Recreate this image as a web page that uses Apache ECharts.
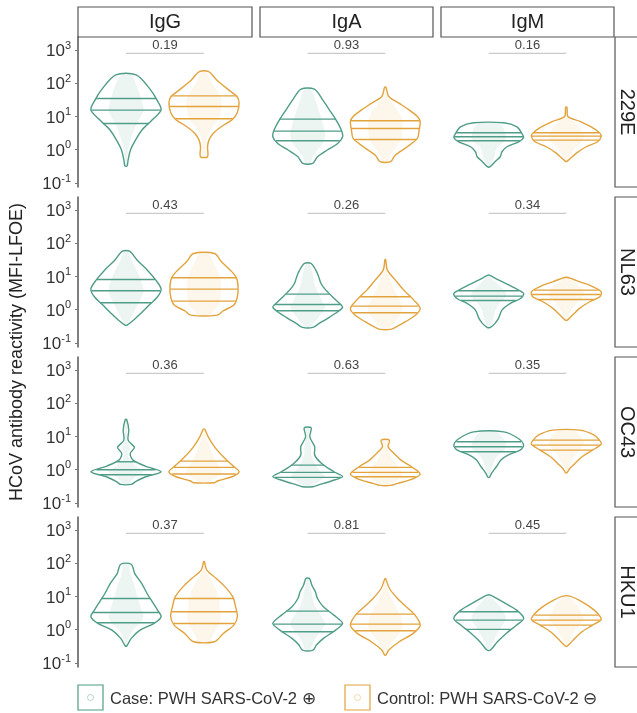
<!DOCTYPE html>
<html>
<head>
<meta charset="utf-8">
<script src="https://cdn.jsdelivr.net/npm/echarts@6/dist/echarts.min.js"></script>
<style>
html, body { margin: 0; padding: 0; background: #fff; }
#chartDom { width: 637px; height: 713px; }
</style>
</head>
<body>
<div id="chartDom"></div>
<script>
// facets
var antigens = ['229E', 'NL63', 'OC43', 'HKU1'];
var isotypes = ['IgG', 'IgA', 'IgM'];
var groupNames = ['Case: PWH SARS-CoV-2', 'Control: PWH SARS-CoV-2'];
var groupSigns = ['\u2295', '\u2296'];

// p values per antigen (row) and isotype (column)
var pValues = [
    [0.19, 0.93, 0.16],
    [0.43, 0.26, 0.34],
    [0.36, 0.63, 0.35],
    [0.37, 0.81, 0.45]
];

// y ticks, log10(MFI-LFOE)
var yTicks = [-1, 0, 1, 2, 3];

// violin outlines: [log10 MFI-LFOE, relative density], top to bottom
var caseProfiles = [
    [
        [[2.25, 0.29], [1.8, 0.7], [1.5, 0.88], [1.2, 1], [0.9, 0.75], [0.6, 0.46], [0.29, 0.27], [0, 0.13], [-0.31, 0.06], [-0.49, 0.03]],
        [[1.82, 0.19], [1.5, 0.43], [1.2, 0.62], [0.9, 0.81], [0.6, 0.96], [0.39, 1], [0.19, 0.86], [0, 0.57], [-0.21, 0.28], [-0.41, 0.14]],
        [[0.81, 0.43], [0.69, 0.81], [0.49, 0.95], [0.37, 1], [0.24, 0.86], [0.09, 0.52], [-0.06, 0.38], [-0.21, 0.33], [-0.36, 0.18], [-0.51, 0.04]]
    ],
    [
        [[1.76, 0.1], [1.49, 0.32], [1.19, 0.61], [0.89, 0.85], [0.62, 1], [0.39, 0.9], [0.14, 0.66], [-0.11, 0.42], [-0.31, 0.22], [-0.46, 0.03]],
        [[1.39, 0.1], [1.09, 0.28], [0.79, 0.38], [0.59, 0.52], [0.34, 0.76], [0.14, 0.96], [0.07, 1], [-0.06, 0.86], [-0.26, 0.57], [-0.41, 0.33], [-0.53, 0.15]],
        [[1.04, 0.02], [0.89, 0.29], [0.69, 0.68], [0.49, 1], [0.34, 0.91], [0.19, 0.62], [-0.01, 0.38], [-0.26, 0.28], [-0.41, 0.18], [-0.53, 0.05]]
    ],
    [
        [[1.51, 0.02], [1.19, 0.08], [0.89, 0.06], [0.67, 0.24], [0.49, 0.12], [0.29, 0.2], [0.11, 0.55], [-0.06, 1], [-0.21, 0.56], [-0.36, 0.27], [-0.44, 0.15]],
        [[1.26, 0.1], [0.99, 0.06], [0.69, 0.2], [0.44, 0.2], [0.19, 0.4], [-0.06, 0.75], [-0.21, 1], [-0.33, 0.7], [-0.46, 0.3], [-0.51, 0.15]],
        [[1.14, 0.43], [0.94, 0.85], [0.74, 1], [0.59, 0.9], [0.44, 0.55], [0.29, 0.35], [0.09, 0.22], [-0.11, 0.08], [-0.23, 0.02]]
    ],
    [
        [[1.97, 0.15], [1.69, 0.25], [1.39, 0.45], [1.09, 0.6], [0.84, 0.75], [0.59, 0.9], [0.39, 1], [0.19, 0.8], [-0.01, 0.4], [-0.26, 0.15], [-0.49, 0.02]],
        [[1.54, 0.05], [1.34, 0.12], [1.14, 0.22], [0.94, 0.28], [0.69, 0.45], [0.44, 0.75], [0.19, 1], [-0.01, 0.8], [-0.26, 0.45], [-0.46, 0.25], [-0.61, 0.15]],
        [[1.04, 0.05], [0.84, 0.4], [0.59, 0.8], [0.34, 1], [0.14, 0.8], [-0.11, 0.5], [-0.36, 0.25], [-0.61, 0.05]]
    ]
];
var controlProfiles = [
    [
        [[2.35, 0.13], [2.1, 0.36], [1.8, 0.7], [1.6, 0.94], [1.4, 1], [1.1, 0.94], [0.9, 0.8], [0.7, 0.5], [0.49, 0.26], [0.29, 0.14], [0.09, 0.1], [-0.21, 0.1]],
        [[1.88, 0.02], [1.6, 0.1], [1.4, 0.39], [1.2, 0.68], [1, 0.92], [0.85, 1], [0.6, 0.97], [0.34, 0.92], [0.09, 0.63], [-0.16, 0.29], [-0.36, 0.15]],
        [[1.28, 0.02], [1, 0.05], [0.85, 0.39], [0.65, 0.77], [0.5, 0.96], [0.4, 1], [0.24, 0.9], [0.09, 0.57], [-0.11, 0.28], [-0.34, 0.03]]
    ],
    [
        [[1.69, 0.3], [1.44, 0.5], [1.19, 0.75], [0.97, 0.92], [0.69, 0.97], [0.39, 0.95], [0.14, 0.85], [-0.03, 0.55], [-0.16, 0.38]],
        [[1.51, 0.01], [1.19, 0.06], [0.89, 0.29], [0.59, 0.53], [0.29, 0.82], [0.04, 1], [-0.16, 0.87], [-0.36, 0.58], [-0.53, 0.29], [-0.59, 0.15]],
        [[0.97, 0.05], [0.84, 0.39], [0.69, 0.77], [0.54, 1], [0.39, 0.96], [0.24, 0.67], [0.04, 0.38], [-0.16, 0.18], [-0.31, 0.03]]
    ],
    [
        [[1.22, 0.02], [0.99, 0.12], [0.69, 0.3], [0.39, 0.55], [0.14, 0.8], [-0.06, 1], [-0.21, 0.8], [-0.33, 0.4], [-0.39, 0.3]],
        [[0.89, 0.12], [0.69, 0.08], [0.49, 0.25], [0.29, 0.45], [0.09, 0.75], [-0.13, 1], [-0.29, 0.75], [-0.41, 0.35], [-0.47, 0.15]],
        [[1.19, 0.39], [1.04, 0.8], [0.89, 0.95], [0.77, 1], [0.59, 0.75], [0.39, 0.45], [0.19, 0.25], [0.04, 0.1], [-0.09, 0.02]]
    ],
    [
        [[2.05, 0.01], [1.79, 0.08], [1.54, 0.35], [1.29, 0.6], [0.99, 0.82], [0.69, 0.9], [0.39, 0.95], [0.14, 0.85], [-0.11, 0.55], [-0.36, 0.3]],
        [[1.54, 0.01], [1.24, 0.12], [0.94, 0.35], [0.69, 0.6], [0.44, 0.85], [0.14, 1], [-0.11, 0.8], [-0.36, 0.4], [-0.61, 0.1], [-0.76, 0.02]],
        [[1.01, 0.1], [0.84, 0.45], [0.59, 0.8], [0.31, 1], [0.14, 0.75], [-0.06, 0.45], [-0.31, 0.2], [-0.49, 0.03]]
    ]
];

// quartiles [q1, median, q3], log10 MFI-LFOE
var caseQuartiles = [
    [[0.79, 1.19, 1.54], [0.27, 0.56, 0.92], [0.27, 0.39, 0.51]],
    [[0.21, 0.57, 0.91], [-0.03, 0.16, 0.47], [0.28, 0.41, 0.57]],
    [[-0.15, 0.0, 0.24], [-0.23, -0.08, 0.14], [0.54, 0.69, 0.84]],
    [[0.21, 0.52, 0.94], [-0.06, 0.17, 0.56], [0.01, 0.29, 0.54]]
];
var controlQuartiles = [
    [[0.93, 1.30, 1.62], [0.31, 0.64, 0.87], [0.29, 0.41, 0.51]],
    [[0.26, 0.62, 0.96], [-0.09, 0.11, 0.39], [0.31, 0.46, 0.59]],
    [[-0.13, 0.07, 0.26], [-0.21, -0.08, 0.07], [0.59, 0.74, 0.89]],
    [[0.19, 0.54, 0.94], [-0.03, 0.17, 0.47], [0.14, 0.29, 0.44]]
];

var groupColors = ['#4f9c87', '#e2a33d'];
var fontFamily = '"Liberation Sans", Arial, sans-serif';

// layout
var colLeft = [78, 260, 441];
var colWidth = [174, 173, 173];
var rowTop = 37, rowHeight = 150, rowStep = 160;
var violinHalf = 0.45;

var chartDom = echarts.init(document.getElementById('chartDom'));

function widthAt(profile, v) {
    for (var i = 0; i < profile.length - 1; i++) {
        var a = profile[i], b = profile[i + 1];
        if (v <= a[0] && v >= b[0]) {
            var t = (a[0] - v) / (a[0] - b[0]);
            return a[1] + (b[1] - a[1]) * t;
        }
    }
    return 0;
}

function violinRenderer(r, c) {
    return function (params, api) {
        var g = api.value(1);
        var profile = (g === 0 ? caseProfiles : controlProfiles)[r][c];
        var quart = (g === 0 ? caseQuartiles : controlQuartiles)[r][c];
        var color = groupColors[g];
        var cx = api.value(0);
        var mid = api.coord([cx, 0])[0];
        var halfW = api.size([violinHalf, 0])[0];
        var right = [], left = [], cRight = [], cLeft = [];
        profile.forEach(function (p) {
            var y = api.coord([cx, p[0]])[1];
            right.push([mid + p[1] * halfW, y]);
            left.unshift([mid - p[1] * halfW, y]);
            // faint band standing in for the jittered points
            cRight.push([mid + p[1] * halfW * 0.5, y]);
            cLeft.unshift([mid - p[1] * halfW * 0.5, y]);
        });
        var children = [{
            type: 'polygon',
            shape: { points: cRight.concat(cLeft), smooth: 0.3 },
            style: { fill: color, opacity: 0.1 }
        }, {
            type: 'polygon',
            shape: { points: right.concat(left), smooth: 0.3 },
            style: { fill: 'none', stroke: color, lineWidth: 1.4 }
        }];
        quart.forEach(function (q) {
            var w = widthAt(profile, q) * halfW;
            var y = api.coord([cx, q])[1];
            children.push({
                type: 'line',
                shape: { x1: mid - w, y1: y, x2: mid + w, y2: y },
                style: { stroke: color, lineWidth: 1.4 }
            });
        });
        return { type: 'group', children: children };
    };
}

function pValueRenderer(params, api) {
    var p1 = api.coord([1, 2.9]);
    var p2 = api.coord([2, 2.9]);
    return {
        type: 'group',
        children: [{
            type: 'line',
            shape: { x1: p1[0], y1: p1[1], x2: p2[0], y2: p2[1] },
            style: { stroke: '#bdbdbd', lineWidth: 1 }
        }, {
            type: 'text',
            x: (p1[0] + p2[0]) / 2,
            y: p1[1] - 1,
            style: {
                text: api.value(0).toFixed(2),
                fill: '#444',
                font: '13px ' + fontFamily,
                align: 'center',
                verticalAlign: 'bottom'
            }
        }]
    };
}

var grids = [], xAxes = [], yAxes = [], series = [], graphics = [];

antigens.forEach(function (ag, r) {
    isotypes.forEach(function (iso, c) {
        var idx = r * 3 + c;
        grids.push({
            left: colLeft[c],
            top: rowTop + r * rowStep,
            width: colWidth[c],
            height: rowHeight
        });
        xAxes.push({
            gridIndex: idx, type: 'value', min: 0.385, max: 2.615, show: false
        });
        yAxes.push({
            gridIndex: idx,
            type: 'value',
            min: -1.12,
            max: 3.39,
            show: c === 0,
            axisLine: { show: true, lineStyle: { color: '#555', width: 1.5 } },
            axisTick: { show: true, length: 3, customValues: yTicks, lineStyle: { color: '#777' } },
            splitLine: { show: false },
            axisLabel: {
                customValues: yTicks,
                margin: 7,
                formatter: function (v) { return '{b|10}{s|' + v + '}'; },
                rich: {
                    b: { fontSize: 17, fontFamily: fontFamily, color: '#333', lineHeight: 20, verticalAlign: 'bottom' },
                    s: { fontSize: 11, fontFamily: fontFamily, color: '#333', lineHeight: 12, verticalAlign: 'top' }
                }
            }
        });
        series.push({
            type: 'custom',
            name: ag + ' ' + iso,
            xAxisIndex: idx,
            yAxisIndex: idx,
            renderItem: violinRenderer(r, c),
            data: [[1, 0], [2, 1]],
            silent: true
        });
        series.push({
            type: 'custom',
            xAxisIndex: idx,
            yAxisIndex: idx,
            renderItem: pValueRenderer,
            data: [[pValues[r][c]]],
            silent: true
        });
    });
});

// column strips
isotypes.forEach(function (iso, c) {
    graphics.push({
        type: 'rect',
        shape: { x: colLeft[c], y: 7, width: colWidth[c], height: 30 },
        style: { fill: '#fff', stroke: '#555', lineWidth: 1.2 }
    });
    graphics.push({
        type: 'text',
        x: colLeft[c] + colWidth[c] / 2,
        y: 22,
        style: { text: iso, font: '20px ' + fontFamily, fill: '#222', align: 'center', verticalAlign: 'middle' }
    });
});

// row strips
antigens.forEach(function (ag, r) {
    var top = rowTop + r * rowStep;
    graphics.push({
        type: 'rect',
        shape: { x: 615, y: top, width: 40, height: rowHeight },
        style: { fill: '#fff', stroke: '#555', lineWidth: 1.2 }
    });
    graphics.push({
        type: 'text',
        x: 627,
        y: top + rowHeight / 2,
        rotation: -Math.PI / 2,
        style: { text: ag, font: '20px ' + fontFamily, fill: '#222', align: 'center', verticalAlign: 'middle' }
    });
});

// y axis title
graphics.push({
    type: 'text',
    x: 17,
    y: 352,
    rotation: Math.PI / 2,
    style: {
        text: 'HCoV antibody reactivity (MFI-LFOE)',
        font: '18px ' + fontFamily, fill: '#222', align: 'center', verticalAlign: 'middle'
    }
});

// legend
var legendX = [78, 345];
groupNames.forEach(function (name, g) {
    graphics.push({
        type: 'rect',
        shape: { x: legendX[g], y: 685, width: 25, height: 25 },
        style: { fill: 'none', stroke: groupColors[g], lineWidth: 1.2 }
    });
    graphics.push({
        type: 'circle',
        shape: { cx: legendX[g] + 12.5, cy: 697.5, r: 3 },
        style: { fill: 'none', stroke: groupColors[g], lineWidth: 0.8, opacity: 0.5 }
    });
    graphics.push({
        type: 'text',
        x: legendX[g] + 32,
        y: 699,
        style: {
            text: name + ' ' + groupSigns[g],
            font: '16.5px ' + fontFamily, fill: '#333', align: 'left', verticalAlign: 'middle'
        }
    });
});

chartDom.setOption({
    animation: false,
    grid: grids,
    xAxis: xAxes,
    yAxis: yAxes,
    series: series,
    graphic: graphics
});
</script>
</body>
</html>
